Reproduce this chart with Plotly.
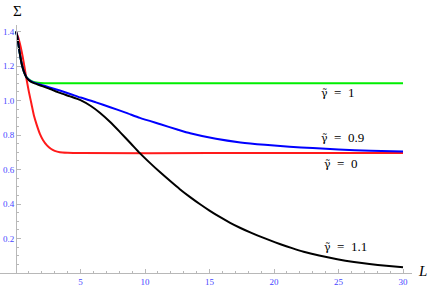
import plotly.graph_objects as go

# ---------------- data ----------------
L_green = [0, 0.1, 0.2, 0.3, 0.45, 0.6, 0.8, 1.0, 1.3, 1.7, 2.2, 3.0, 10, 20, 30]
S_green = [1.40, 1.37, 1.32, 1.27, 1.21, 1.17, 1.137, 1.121, 1.109, 1.103, 1.10, 1.10, 1.10, 1.10, 1.10]

L_blue = [0, 0.1, 0.2, 0.3, 0.45, 0.6, 0.8, 1.0, 1.3, 1.9, 2.6, 3.4, 4.2, 5.0, 6.2, 7.3, 8.5,
          9.6, 11.2, 12.5, 13.5, 15.5, 17.4, 19.3, 21.2, 23.0, 25.0, 27.5, 30]
S_blue = [1.40, 1.37, 1.32, 1.27, 1.21, 1.17, 1.136, 1.12, 1.106, 1.092, 1.076, 1.058, 1.038,
          1.017, 0.989, 0.961, 0.93, 0.899, 0.862, 0.832, 0.810, 0.778, 0.757, 0.743, 0.732,
          0.724, 0.716, 0.709, 0.704]

L_red = [0, 0.15, 0.3, 0.45, 0.6, 0.8, 1.0, 1.2, 1.4, 1.6, 1.86, 2.1, 2.4, 2.7, 3.0, 3.4, 4.0, 5.0, 15, 30]
S_red = [1.40, 1.37, 1.33, 1.28, 1.22, 1.13, 1.05, 0.98, 0.91, 0.86, 0.805, 0.77, 0.74, 0.72,
         0.708, 0.70, 0.697, 0.695, 0.695, 0.695]

L_black = [0, 0.1, 0.2, 0.3, 0.45, 0.6, 0.8, 1.0, 1.3, 1.9, 2.6, 3.4, 4.2, 5.0, 5.8, 6.5, 7.3,
           8.1, 8.9, 9.6, 10.4, 11.2, 12.0, 12.7, 13.5, 14.3, 15.0, 15.8, 16.6, 17.4, 18.2,
           18.9, 19.7, 20.5, 21.4, 22.3, 23.5, 24.9, 26.2, 27.4, 28.7, 30]
S_black = [1.40, 1.37, 1.32, 1.27, 1.21, 1.17, 1.135, 1.118, 1.103, 1.087, 1.068, 1.044, 1.024,
           1.002, 0.968, 0.929, 0.875, 0.814, 0.751, 0.695, 0.637, 0.582, 0.530, 0.486, 0.440,
           0.397, 0.362, 0.325, 0.291, 0.261, 0.234, 0.212, 0.189, 0.167, 0.144, 0.123, 0.101,
           0.080, 0.064, 0.052, 0.042, 0.034]

gamma_values = ["1", "0.9", "0", "1.1"]
label_x = [23.49, 23.49, 23.72, 23.72]
label_y = [1.046, 0.786, 0.635, 0.154]

x_ticks = [5, 10, 15, 20, 25, 30]
y_ticks = [0.2, 0.4, 0.6, 0.8, 1.0, 1.2, 1.4]
y_ticktext = ["0.2", "0.4", "0.6", "0.8", "1.0", "1.2", "1.4"]
x_minor = [v for v in range(1, 31) if v % 5 != 0]
y_minor = [round(0.05 * k, 2) for k in range(1, 29) if k % 4 != 0]

# ---------------- figure ----------------
fig = go.Figure()
series = [
    (L_green, S_green, "#00ee00"),
    (L_red, S_red, "#ff1a1a"),
    (L_blue, S_blue, "#0000ff"),
    (L_black, S_black, "#000000"),
]
for xs, ys, col in series:
    fig.add_trace(go.Scatter(x=xs, y=ys, mode="lines",
                             line=dict(color=col, width=2, shape="spline", smoothing=0.6),
                             showlegend=False, hoverinfo="skip"))

lab_font = dict(family="Liberation Serif", size=13, color="#000000")
for g, x, y in zip(gamma_values, label_x, label_y):
    txt = ("<span style=\"font-family:'DejaVu Serif';font-size:11px\">γ̃</span>"
           "\u2002=\u2002" + g)
    fig.add_annotation(x=x, y=y, text=txt, showarrow=False, xanchor="left", yanchor="middle",
                       font=lab_font)

W, H = 430, 287
ml, mr, mt, mb = 0, 18, 25, 14
pw = W - ml - mr
ph = H - mt - mb
px_per_L = 12.9
x0_px = 16
x_range = [-x0_px / px_per_L, (pw - x0_px) / px_per_L]
y_range = [0, ph / 172.5]

axis_col = "#b8b8b8"
tick_font = dict(family="Liberation Serif", size=9, color="#4646ff")

fig.update_layout(
    width=W, height=H, template="none",
    margin=dict(l=ml, r=mr, t=mt, b=mb, pad=0),
    paper_bgcolor="white", plot_bgcolor="white",
    xaxis=dict(range=x_range, showgrid=False, zeroline=False, showline=True,
               linecolor=axis_col, linewidth=1, ticks="inside", ticklen=4, tickcolor=axis_col,
               tickmode="array", tickvals=x_ticks, tickfont=tick_font, automargin=False,
               minor=dict(tickmode="array", tickvals=x_minor, ticks="inside", ticklen=2,
                          tickcolor=axis_col)),
    yaxis=dict(range=y_range, showgrid=False, zeroline=False, showline=True,
               anchor="free", position=x0_px / pw,
               linecolor=axis_col, linewidth=1, ticks="inside", ticklen=4, tickcolor=axis_col,
               tickmode="array", tickvals=y_ticks, ticktext=y_ticktext, tickfont=tick_font,
               automargin=False,
               minor=dict(tickmode="array", tickvals=y_minor, ticks="inside", ticklen=2,
                          tickcolor=axis_col)),
)

fig.add_annotation(x=17 / pw, y=(H - mb - 11) / ph, xref="paper", yref="paper",
                   text="Σ", showarrow=False, xanchor="center", yanchor="middle",
                   font=dict(family="Liberation Serif", size=15, color="black"))
fig.add_annotation(x=422 / pw, y=(H - mb - 271) / ph, xref="paper", yref="paper",
                   text="<i>L</i>", showarrow=False, xanchor="center", yanchor="middle",
                   font=dict(family="Liberation Serif", size=15, color="black"))

fig.write_html("out.html", config={"displayModeBar": False},
               post_script="document.body.style.margin='0';document.body.style.padding='0';"
                           "document.body.style.overflow='hidden';")
